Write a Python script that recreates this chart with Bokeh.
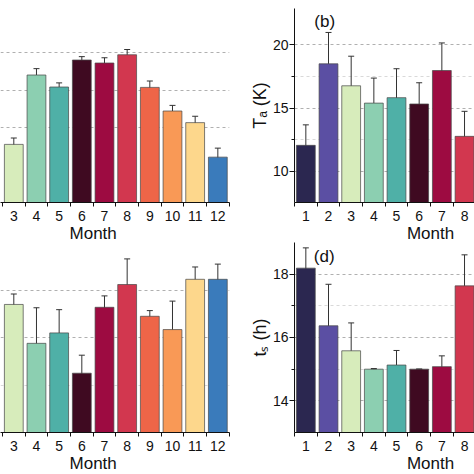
import numpy as np
import pandas as pd
from bokeh.plotting import figure
from bokeh.layouts import row, column
from bokeh.models import (ColumnDataSource, FixedTicker, Grid, Label, Whisker,
                          TeeHead, Range1d, LinearAxis)
from bokeh.embed import file_html
from bokeh.resources import INLINE

FONT = "Liberation Sans"

# ---------------- data ----------------
month_ticks = [1, 2, 3, 4, 5, 6, 7, 8, 9, 10, 11, 12]
month_edges = [0.5, 1.5, 2.5, 3.5, 4.5, 5.5, 6.5, 7.5, 8.5, 9.5, 10.5, 11.5, 12.5]
month_axis_centre = 6.5

months_left = [3, 4, 5, 6, 7, 8, 9, 10, 11, 12]
months_right = [1, 2, 3, 4, 5, 6, 7, 8]

# panel (a)  (its y axis lies outside the visible area; arbitrary units)
a_values = [1.55, 3.40, 3.08, 3.80, 3.72, 3.94, 3.07, 2.44, 2.13, 1.21]
a_errors = [0.17, 0.17, 0.11, 0.09, 0.14, 0.14, 0.17, 0.15, 0.17, 0.24]
# panel (b)  T_a (K)
b_values = [12.05, 18.50, 16.76, 15.39, 15.82, 15.32, 17.97, 12.76]
b_errors = [1.62, 2.48, 2.34, 1.98, 2.29, 1.68, 2.18, 1.98]
# panel (c)  (its y axis lies outside the visible area; arbitrary units)
c_values = [2.70, 1.88, 2.10, 1.25, 2.64, 3.12, 2.45, 2.17, 3.23, 3.23]
c_errors = [0.22, 0.75, 0.49, 0.38, 0.24, 0.54, 0.12, 0.60, 0.26, 0.32]
# panel (d)  t_s (h)
d_values = [18.19, 16.37, 15.58, 15.00, 15.13, 15.00, 15.08, 17.63]
d_errors = [0.64, 1.31, 0.88, 0.02, 0.46, 0.00, 0.34, 0.98]

b_yticks, b_yminor = [10, 15, 20], [12.5, 17.5]
d_yticks, d_yminor = [14, 16, 18], [15, 17]
a_grid, a_grid_minor = [2, 3, 4], []
c_grid, c_grid_minor = [2, 3], [1]

b_ylabel = "T\u2090 (K)"
d_ylabel = "t\u209b (h)"
x_label = "Month"

month_colors = ["#2b2750", "#5b4fa3", "#d7ecbb", "#8ccfb1", "#4fb0a7", "#3f0a21",
                "#9d0b41", "#d2374f", "#ee6548", "#f99956", "#fdd78c", "#3a7bbb"]

# ---------------- geometry (page pixels) ----------------
PPX = 22.67
OVERLAP = 26  # the lower row is drawn over the (empty) lower border of the upper row
geo = {
    "a": dict(left=0, x0=2.413, fw=229, bottom=202, y0=0.0, ppy=37.5, fh=194,
              width=237, height=268, mbl=0, mbr=8, mbt=8, mbb=66, tick_stand=4, lab_stand=0),
    "b": dict(left=294, x0=0.5, fw=180, bottom=202, y0=7.527, ppy=12.64, fh=194,
              width=237, height=268, mbl=57, mbr=0, mbt=8, mbb=66, tick_stand=4, lab_stand=0),
    "c": dict(left=0, x0=2.413, fw=229, bottom=432, y0=0.0, ppy=47.43, fh=190,
              width=237, height=258, mbl=0, mbr=8, mbt=0, mbb=68, tick_stand=4, lab_stand=0),
    "d": dict(left=294, x0=0.5, fw=180, bottom=432, y0=13.0, ppy=31.67, fh=190,
              width=237, height=258, mbl=57, mbr=0, mbt=0, mbb=68, tick_stand=4, lab_stand=0),
}


def to_data(g, ix, iy):
    return (g["x0"] + (ix - g["left"]) / PPX, g["y0"] + (g["bottom"] - iy) / g["ppy"])


def add_text(p, g, text, ix, iy, size):
    x, y = to_data(g, ix, iy)
    p.add_layout(Label(x=x, y=y, x_units="data", y_units="data", text=text,
                       text_font=FONT, text_font_size=size, text_color="#111111",
                       text_align="center", text_baseline="alphabetic"))


def make_panel(key, months, values, errors, ylabel, ymajor, yminor, gmajor, gminor):
    g = geo[key]
    show_y = ylabel is not None
    x_end = g["x0"] + g["fw"] / PPX
    y_end = g["y0"] + g["fh"] / g["ppy"]
    p = figure(width=g["width"], height=g["height"],
               x_range=Range1d(g["x0"], x_end), y_range=Range1d(g["y0"], y_end),
               output_backend="svg", toolbar_location=None,
               y_axis_location="left" if show_y else None,
               min_border_left=g["mbl"], min_border_right=g["mbr"],
               min_border_top=g["mbt"], min_border_bottom=g["mbb"])
    p.outline_line_color = None
    p.background_fill_color = "white"
    p.border_fill_color = "white"
    p.xgrid.visible = False
    p.ygrid.visible = False

    p.add_layout(Grid(dimension=1, ticker=FixedTicker(ticks=gmajor, minor_ticks=gminor),
                      grid_line_color="#b0b0b0", grid_line_dash="3 3", grid_line_width=1,
                      minor_grid_line_color="#d9d9d9", minor_grid_line_dash="3 3"))

    lo = [v - e for v, e in zip(values, errors)]
    hi = [v + e for v, e in zip(values, errors)]
    src = ColumnDataSource(dict(m=months, v=values, lo=lo, hi=hi,
                                c=[month_colors[m - 1] for m in months]))
    p.vbar(x="m", top="v", bottom=g["y0"] - 5, width=0.83, source=src,
           fill_color="c", line_color="#4a4a4a", line_width=0.8, line_alpha=0.9)
    p.add_layout(Whisker(source=src, base="m", upper="hi", lower="lo", dimension="height",
                         line_color="#333333", line_width=1,
                         upper_head=TeeHead(size=6, line_color="#333333", line_width=1),
                         lower_head=TeeHead(size=6, line_color="#333333", line_width=1)))

    ax = p.xaxis[0]
    ax.ticker = FixedTicker(ticks=month_ticks, minor_ticks=month_edges)
    ax.axis_line_color = "#111111"
    ax.axis_line_width = 1
    ax.major_tick_line_color = None
    ax.major_tick_out = 0
    ax.major_tick_in = 0
    ax.minor_tick_line_color = "#111111"
    ax.minor_tick_out = 4
    ax.minor_tick_in = 0
    ax.major_label_standoff = g["tick_stand"]
    ax.major_label_text_font = FONT
    ax.major_label_text_font_size = "14px"
    ax.major_label_text_color = "#111111"

    # "Month": centred on the whole month axis (partly outside the visible area)
    mx = LinearAxis(ticker=FixedTicker(ticks=[month_axis_centre]),
                    major_label_overrides={month_axis_centre: x_label})
    mx.axis_line_color = None
    mx.major_tick_line_color = None
    mx.minor_tick_line_color = None
    mx.major_tick_out = 0
    mx.major_tick_in = 0
    mx.minor_tick_out = 0
    mx.minor_tick_in = 0
    mx.major_label_standoff = g["lab_stand"]
    mx.major_label_text_font = FONT
    mx.major_label_text_font_size = "17px"
    mx.major_label_text_color = "#111111"
    p.add_layout(mx, "below")

    if show_y:
        ay = p.yaxis[0]
        ay.ticker = FixedTicker(ticks=ymajor, minor_ticks=yminor)
        ay.axis_line_color = "#111111"
        ay.major_tick_line_color = "#111111"
        ay.minor_tick_line_color = "#111111"
        ay.major_tick_out = 5
        ay.major_tick_in = 0
        ay.minor_tick_out = 3
        ay.minor_tick_in = 0
        ay.major_label_standoff = 1
        ay.major_label_text_font = FONT
        ay.major_label_text_font_size = "14px"
        ay.major_label_text_color = "#111111"
        ay.axis_label = ylabel
        ay.axis_label_text_font = FONT
        ay.axis_label_text_font_size = "18px"
        ay.axis_label_text_font_style = "normal"
        ay.axis_label_text_color = "#111111"
        ay.axis_label_standoff = 0
    return p, g


pa, ga = make_panel("a", months_left, a_values, a_errors, None, [], [], a_grid, a_grid_minor)
pb, gb = make_panel("b", months_right, b_values, b_errors, b_ylabel, b_yticks, b_yminor,
                    b_yticks, b_yminor)
pc, gc = make_panel("c", months_left, c_values, c_errors, None, [], [], c_grid, c_grid_minor)
pd_, gd = make_panel("d", months_right, d_values, d_errors, d_ylabel, d_yticks, d_yminor,
                     d_yticks, d_yminor)

add_text(pb, gb, "(b)", 324.2, 21.0, "17px")
add_text(pd_, gd, "(d)", 323.7, 256.0, "17px")

top_row = row(pa, pb)
bottom_row = row(pc, pd_, margin=(-OVERLAP, 0, -OVERLAP, 0))
layout = column(top_row, bottom_row, width=474, height=474,
                styles={"overflow": "hidden"})
open("out.html", "w").write(file_html(layout, INLINE))
